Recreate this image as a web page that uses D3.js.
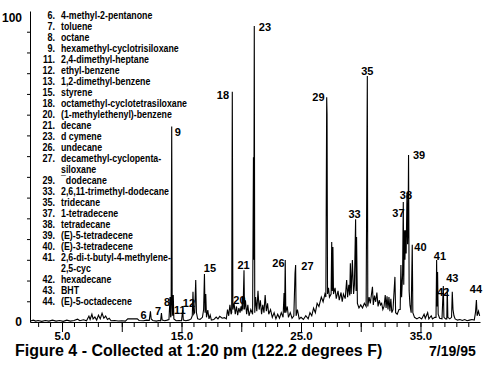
<!DOCTYPE html>
<html><head><meta charset="utf-8">
<script src="https://cdn.jsdelivr.net/npm/d3@7/dist/d3.min.js"></script>
<style>
html,body{margin:0;padding:0;background:#fff;}
svg{display:block;font-family:"Liberation Sans",Arial,sans-serif;font-weight:bold;}
</style></head><body>
<svg id="chart" width="485" height="365"></svg>
<script>
// ---------------- data ----------------
const legendNumbers = ["6.","7.","8.","9.","11.","12.","13.","15.","18.","20.","21.","23.","26.","27.","29.","33.","35.","37.","38.","39.","40.","41.","42.","43.","44."];
const legendNames = [
  ["4-methyl-2-pentanone"],["toluene"],["octane"],["hexamethyl-cyclotrisiloxane"],
  ["2,4-dimethyl-heptane"],["ethyl-benzene"],["1,2-dimethyl-benzene"],["styrene"],
  ["octamethyl-cyclotetrasiloxane"],["(1-methylethenyl)-benzene"],["decane"],["d cymene"],
  ["undecane"],["decamethyl-cyclopenta-","siloxane"],["\u00afdodecane"],["2,6,11-trimethyl-dodecane"],
  ["tridecane"],["1-tetradecene"],["tetradecane"],["(E)-5-tetradecene"],["(E)-3-tetradecene"],
  ["2,6-di-t-butyl-4-methylene-","2,5-cyc"],["hexadecane"],["BHT"],["(E)-5-octadecene"]
];
const peakIds     = ["6","7","8","9","11","12","15","18","20","21","23","26","27","29","33","35","37","38","39","40","41","42","43","44"];
const peakTimes   = [12.40,13.32,14.04,14.18,15.10,15.96,16.92,19.25,20.10,20.23,21.09,23.68,24.55,27.15,29.57,30.55,33.56,33.87,34.00,34.31,36.35,36.91,37.66,39.68];
const peakHeights = [3.4,2.9,8.0,62.9,3.9,9.7,15.4,74.0,8.0,16.6,95.2,19.9,18.3,72.3,33.0,79.1,38.6,41.5,53.7,24.8,19.9,11.6,9.7,7.1];
const trace = [
 [2.35,0.3],[2.6,0.6],[2.8,0.3],[3.0,0.5],[3.3,0.2],[3.6,0.5],[3.9,0.3],[4.2,0.6],[4.5,0.3],[4.8,0.5],[5.1,0.2],[5.4,0.6],[5.7,0.3],[6.0,0.5],[6.3,0.9],[6.5,0.4],[6.8,0.7],[7.05,0.4],[7.25,1.9],[7.35,0.8],[7.5,2.5],[7.6,1.0],[7.75,1.6],[7.9,0.6],[8.05,2.2],[8.2,1.0],[8.35,2.8],[8.5,1.2],[8.65,1.9],[8.8,0.8],[8.95,1.2],[9.1,0.4],[9.4,0.5],[9.7,0.3],[10.0,0.4],[10.3,0.3],[10.5,1.0],[11.3,1.0],[11.45,0.5],[11.8,0.4],[12.1,0.6],[12.3,0.5],
 [12.40,3.4],[12.46,1.0],[12.6,0.5],[12.9,0.3],[13.1,0.5],[13.25,0.4],
 [13.32,2.9],[13.38,0.6],[13.6,0.4],[13.8,0.6],[13.95,0.8],
 [14.04,8.0],[14.09,1.5],[14.13,2.0],
 [14.18,62.9],[14.22,6.0],[14.26,2.0],[14.31,8.7],[14.36,1.0],[14.55,0.4],[14.8,0.5],[15.0,0.4],
 [15.10,3.9],[15.15,0.6],[15.35,0.4],[15.6,0.6],[15.8,1.0],[15.9,2.0],
 [15.96,9.7],[16.02,2.5],[16.1,3.0],[16.19,13.5],[16.25,3.0],[16.35,1.0],[16.55,0.8],[16.75,1.5],[16.85,4.0],
 [16.92,15.4],[16.97,3.0],[17.03,9.0],[17.09,1.5],[17.2,3.8],[17.3,1.0],[17.4,2.2],[17.5,0.6],[17.7,0.8],[17.9,1.6],[18.05,1.0],[18.2,1.8],[18.4,1.2],[18.6,1.4],[18.75,1.0],[18.85,4.0],[18.95,2.0],[19.05,5.5],[19.15,2.5],[19.2,3.0],
 [19.25,74.0],[19.3,4.0],[19.4,6.0],[19.5,2.5],[19.6,5.0],[19.7,2.2],[19.8,4.5],[19.9,3.0],[19.98,5.0],[20.05,3.5],
 [20.10,8.0],[20.15,4.0],
 [20.23,16.6],[20.27,4.0],[20.35,7.0],[20.45,2.5],[20.55,5.5],[20.65,2.0],[20.8,4.0],[20.95,2.5],
 [21.02,53.0],[21.05,20.0],[21.09,95.2],[21.13,3.0],[21.2,8.0],[21.3,3.5],[21.4,10.0],[21.5,4.0],[21.6,7.0],[21.7,2.5],[21.8,5.5],[21.9,3.0],[22.0,8.7],[22.1,3.5],[22.2,6.0],[22.3,2.5],[22.45,4.0],[22.6,1.5],[22.75,3.0],[22.9,1.0],[23.05,2.5],[23.2,1.2],[23.35,3.0],[23.5,1.5],
 [23.58,9.3],[23.63,3.0],[23.68,19.9],[23.73,3.0],[23.85,5.0],[23.95,1.5],[24.1,3.0],[24.25,1.2],[24.4,2.0],
 [24.5,15.7],[24.55,18.3],[24.59,2.0],[24.7,4.0],[24.85,1.0],[25.0,1.5],[25.2,0.8],[25.4,2.0],[25.6,1.0],[25.75,3.0],[25.9,2.0],[26.05,4.5],[26.2,3.0],[26.35,6.0],[26.5,5.0],[26.7,8.0],[26.85,6.5],[27.0,9.0],[27.08,8.0],
 [27.15,72.3],[27.18,66.7],[27.22,9.0],[27.3,11.0],[27.38,8.0],[27.52,9.0],[27.57,25.7],[27.62,10.0],[27.67,24.1],[27.72,9.0],[27.85,11.0],[27.95,7.5],[28.1,10.0],[28.2,7.0],[28.35,9.5],[28.45,6.5],[28.55,9.0],[28.7,7.5],[28.82,13.5],[28.9,8.0],[29.0,12.0],[29.08,8.5],[29.13,18.9],[29.2,9.0],[29.3,19.9],[29.4,9.0],[29.47,12.0],
 [29.57,33.0],[29.61,10.0],[29.65,27.3],[29.72,6.0],[29.85,4.5],[30.0,5.5],[30.15,4.5],[30.3,6.0],[30.45,5.0],
 [30.55,79.1],[30.59,5.0],[30.7,8.0],[30.8,6.0],[30.9,9.0],[30.98,11.3],[31.05,5.5],[31.15,8.5],[31.25,6.5],[31.35,9.5],[31.45,5.0],[31.55,7.0],[31.65,5.5],[31.75,6.0],[31.85,4.0],[31.95,5.0],[32.05,8.7],[32.12,4.5],[32.2,8.3],[32.28,4.0],[32.36,8.0],[32.44,3.5],[32.52,7.5],[32.6,3.0],[32.7,4.0],[32.86,14.5],[32.92,3.0],[33.05,2.5],[33.2,4.0],
 [33.3,4.0],[33.36,18.3],[33.42,8.0],[33.5,15.0],[33.56,38.6],[33.6,12.0],[33.65,29.5],[33.7,20.0],[33.75,29.5],[33.8,22.0],[33.87,41.5],[33.92,25.0],[33.96,30.0],[34.00,53.7],[34.05,10.0],[34.12,5.4],[34.22,3.0],[34.31,24.8],[34.36,3.0],[34.5,1.5],[34.7,1.0],[34.9,1.5],[35.1,1.0],[35.3,2.5],[35.4,1.2],[35.6,3.0],[35.7,1.0],[35.9,2.0],[36.0,1.0],[36.2,1.5],[36.3,1.5],
 [36.35,19.9],[36.39,5.0],[36.43,16.1],[36.48,2.5],[36.6,1.2],[36.8,1.0],
 [36.91,11.6],[36.96,1.5],[37.1,1.0],[37.2,1.0],[37.24,10.9],[37.29,1.5],[37.45,1.0],[37.6,1.5],
 [37.66,9.7],[37.72,4.0],[37.8,2.0],[37.9,1.0],[38.1,0.6],[38.3,0.8],[38.5,0.5],[38.7,0.8],[38.9,0.4],[39.1,0.6],[39.3,0.8],[39.5,0.6],[39.6,3.0],
 [39.68,7.1],[39.74,2.0],[39.85,3.5],[39.95,2.0]
];
const xMinorTicks = [3,4,5,6,7,8,9,10,11,12,13,14,15,16,17,18,19,20,21,22,23,24,25,26,27,28,29,30,31,32,33,34,35,36,37,38,39];
const xMajorTicks = [5,10,15,20,25,30,35];
const xTickLabels = {5:"5.0",15:"15.0",25:"25.0",35:"35.0"};
const yTickValues = [0,100];
const yTickLabels = ["0","100"];
const yMinorCount = 15;
const captionText = "Figure 4 - Collected at 1:20 pm (122.2 degrees F)";
const dateText = "7/19/95";

// ---------------- layout (positions, not data) ----------------
const labelOffsets = {
  "6":[-7,3.5],"7":[-3.5,-2],"8":[-3,4.5],"9":[6,5.5],"11":[-3,0],"12":[-4,11],"15":[5.5,-6],
  "18":[-9.3,3],"20":[-3,3],"21":[-0.5,-5.5],"23":[10.7,1],"26":[-6.8,3],"27":[11.8,1],
  "29":[-8.2,0],"33":[-1,-5.5],"35":[0,-5],"37":[-4.8,11],"38":[-1,2],"39":[10.5,0],
  "40":[8.2,2],"41":[3.3,-4],"42":[0,6.5],"43":[0,-13.7],"44":[-0.5,-10.5]
};

const svg = d3.select("#chart");
const x = d3.scaleLinear().domain([2.32, 39.98]).range([30, 480]);
const y = d3.scaleLinear().domain([0, 100]).range([322, 11]);

// legend text (drawn under the trace)
const lg = svg.append("g").attr("font-size", 10);
let row = 0;
const lineH = 11, lgTop = 15;
legendNumbers.forEach((num, i) => {
  const yy = lgTop + row * lineH;
  lg.append("text").attr("text-anchor", "end")
    .attr("transform", `translate(55,${yy}) scale(0.9,1)`)
    .attr("dominant-baseline", "central").text(num);
  legendNames[i].forEach((part, j) => {
    lg.append("text")
      .attr("transform", `translate(61,${lgTop + (row + j) * lineH}) scale(0.88,1)`)
      .attr("dominant-baseline", "central").text(part);
  });
  row += legendNames[i].length;
});

// y axis
const yAxisG = svg.append("g").attr("transform", "translate(30,0)");
yAxisG.call(d3.axisLeft(y)
  .tickValues(d3.range(1, yMinorCount).map(k => k * 100 / yMinorCount))
  .tickSize(3).tickSizeOuter(0).tickFormat(""));
yAxisG.select(".domain").attr("stroke", "#000");
yAxisG.selectAll(".tick line").attr("stroke", "#000");
const yLab = svg.append("g").attr("transform", "translate(30,0)");
yLab.call(d3.axisLeft(y).tickValues(yTickValues).tickSize(0).tickPadding(8)
  .tickFormat((d, i) => yTickLabels[i]));
yLab.select(".domain").remove();
yLab.selectAll("text").attr("font-size", 12).attr("font-family", "Liberation Sans, Arial, sans-serif")
  .attr("font-weight", "bold").attr("fill", "#000");
yLab.selectAll(".tick").filter(d => d === 100).select("text").attr("dy", "0.9em");

// x axis
const xAxisMinor = svg.append("g").attr("transform", "translate(0,322)");
xAxisMinor.call(d3.axisBottom(x).tickValues(xMinorTicks).tickSize(5).tickSizeOuter(0).tickFormat(""));
xAxisMinor.select(".domain").attr("stroke", "#000");
const xAxisMajor = svg.append("g").attr("transform", "translate(0,322)");
xAxisMajor.call(d3.axisBottom(x).tickValues(xMajorTicks).tickSize(10).tickPadding(0)
  .tickFormat(d => xTickLabels[d] || ""));
xAxisMajor.select(".domain").remove();
xAxisMajor.selectAll("text").attr("font-size", 11.5).attr("font-family", "Liberation Sans, Arial, sans-serif")
  .attr("font-weight", "bold").attr("fill", "#000");

// trace
const line = d3.line().x(d => x(d[0])).y(d => y(d[1]));
svg.append("path").datum(trace).attr("d", line)
  .attr("fill", "none").attr("stroke", "#000").attr("stroke-width", 1.1)
  .attr("stroke-linejoin", "miter");

// peak labels
const pl = svg.append("g").attr("font-size", 11).attr("text-anchor", "middle");
peakIds.forEach((id, i) => {
  const off = labelOffsets[id];
  pl.append("text")
    .attr("x", x(peakTimes[i]) + off[0])
    .attr("y", y(peakHeights[i]) + off[1])
    .attr("dominant-baseline", "central").text(id);
});

// caption
svg.append("text").attr("x", 15).attr("y", 356).attr("font-size", 16).text(captionText);
svg.append("text").attr("x", 429).attr("y", 356).attr("font-size", 14).text(dateText);
</script>
</body></html>
